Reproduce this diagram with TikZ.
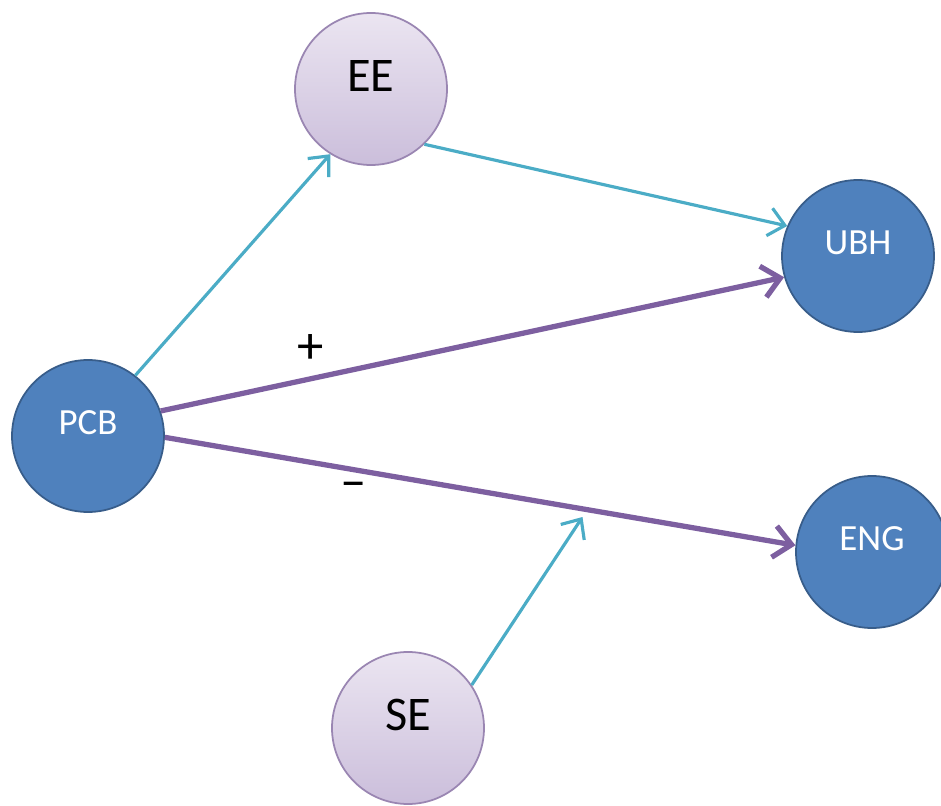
\documentclass[tikz,border=0pt]{standalone}
\usepackage{fontspec}
\setmainfont{Carlito}
\usetikzlibrary{positioning,arrows.meta}
\definecolor{nodeblue}{HTML}{4F81BD}
\definecolor{nodeline}{HTML}{385D8A}
\definecolor{lilactop}{HTML}{EBE5F1}
\definecolor{lilacbot}{HTML}{CBBEDB}
\definecolor{lilacline}{HTML}{9A86B2}
\definecolor{tealarrow}{HTML}{4BACC6}
\definecolor{purplearrow}{HTML}{7D5FA0}

\begin{document}
\begin{tikzpicture}[node distance=1.5cm,on grid,
		blue node/.style={circle,draw=nodeline,line width=1pt,fill=nodeblue,minimum size=3.04cm,
			text=white,font=\fontsize{21}{24}\selectfont,text height=0.5cm,text depth=0.56cm},
		lilac node/.style={circle,draw=lilacline,line width=1pt,top color=lilactop,bottom color=lilacbot,
			minimum size=3.04cm,font=\fontsize{27.5}{30}\selectfont,text height=0.6cm,text depth=0.49cm},
		teal link/.style={draw=tealarrow,line width=1.8pt,-{Straight Barb[length=9pt,width=16pt]}},
		purple link/.style={draw=purplearrow,line width=3pt,-{Straight Barb[length=10pt,width=18pt]}}]
		\useasboundingbox (0,0) rectangle (18.82,16.10);
		
		\node[blue node] (PCB) at (1.76,7.38) {PCB};
		\node[lilac node] (EE) [above right=6.94cm and 5.66cm of PCB] {EE};
		\node[blue node] (UBH) [above right=3.60cm and 15.40cm of PCB] {UBH};
		\node[blue node] (ENG) [below right=2.32cm and 15.68cm of PCB] {ENG};
		\node[lilac node] (SE) [below right=5.84cm and 6.40cm of PCB] {SE};
		
		\path[every node/.style={font=\fontsize{30}{32}\selectfont}]
		(PCB.52) edge[teal link] (EE.238)
		(EE.314) edge[teal link] (UBH.157)
		(PCB.19) edge[purple link] node [pos=0.24,above=4pt] {+} (UBH.196)
		(PCB.359) edge[purple link] node [pos=0.3,below=2pt] {--} coordinate[pos=0.67] (mod) (ENG.175);
		
		\draw[teal link,shorten >=5pt] (SE.34) -- (mod);
		\end{tikzpicture}
\end{document}
